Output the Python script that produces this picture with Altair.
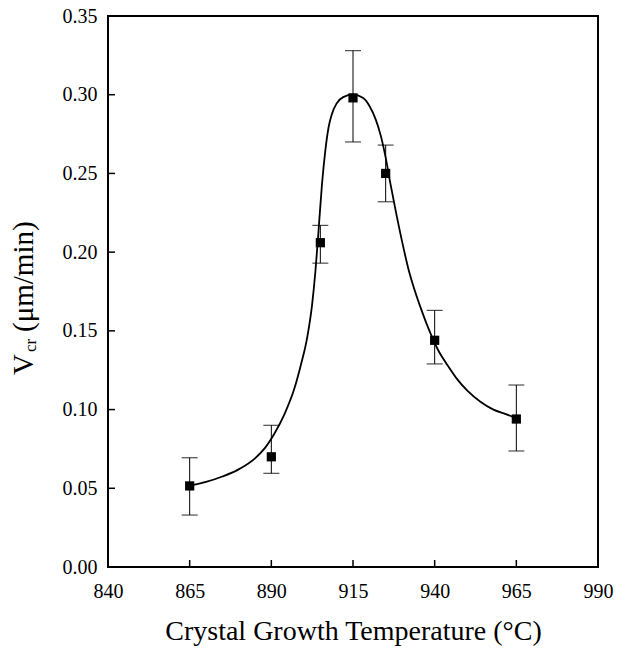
import altair as alt
import pandas as pd

# measured points
temp = [865, 890, 905, 915, 925, 940, 965]
vcr = [0.0515, 0.070, 0.206, 0.298, 0.250, 0.144, 0.094]
err_lo = [0.033, 0.0595, 0.193, 0.270, 0.232, 0.129, 0.0737]
err_hi = [0.0694, 0.090, 0.217, 0.328, 0.268, 0.163, 0.1156]

# fitted curve
curve_x = [865, 870, 875, 880, 885, 888, 891, 894, 897, 899, 901, 902.5, 903.5,
           904.5, 905.5, 906.5, 907.5, 908.5, 910, 912, 915, 918, 920, 922,
           923.5, 925, 926.5, 928, 930, 932, 934, 936, 938, 941, 944, 947, 950,
           954, 958, 962, 965]
curve_y = [0.0515, 0.054, 0.0575, 0.062, 0.069, 0.0755, 0.085, 0.097, 0.113,
           0.128, 0.146, 0.167, 0.188, 0.215, 0.243, 0.264, 0.279, 0.2875,
           0.2945, 0.2985, 0.300, 0.298, 0.293, 0.284, 0.274, 0.260, 0.243,
           0.227, 0.207, 0.189, 0.175, 0.163, 0.152, 0.138, 0.128, 0.119,
           0.112, 0.105, 0.100, 0.097, 0.0945]

x_ticks = [840, 865, 890, 915, 940, 965, 990]
y_ticks = [0.0, 0.05, 0.10, 0.15, 0.20, 0.25, 0.30, 0.35]

W, H = 490, 551
FONT = "Liberation Serif"

pts = pd.DataFrame({"T": temp, "V": vcr, "lo": err_lo, "hi": err_hi})
curve = pd.DataFrame({"T": curve_x, "V": curve_y})
xt = pd.DataFrame({"T": x_ticks})
yt = pd.DataFrame({"V": y_ticks})

xscale = alt.Scale(domain=[840, 990], nice=False, zero=False)
yscale = alt.Scale(domain=[0, 0.35], nice=False)

XTITLE = "Crystal Growth Temperature (°C)"
xaxis = alt.Axis(values=x_ticks, format="d", labelFont=FONT, labelFontSize=20,
                 labelColor="black", ticks=False, domain=False, grid=False,
                 labelPadding=14, labelFlush=False,
                 title=XTITLE, titleFont=FONT,
                 titleFontSize=28, titleFontWeight="normal", titleColor="black",
                 titlePadding=16)
yaxis = alt.Axis(values=y_ticks, format=".2f", labelFont=FONT, labelFontSize=20,
                 labelColor="black", ticks=False, domain=False, grid=False,
                 labelPadding=11, labelFlush=False, title="")


def X(f):
    return alt.X(f, scale=xscale, axis=xaxis, title=XTITLE)


def Y(f):
    return alt.Y(f, scale=yscale, axis=yaxis, title="")


line = alt.Chart(curve).mark_line(color="black", strokeWidth=1.8,
                                  interpolate="monotone").encode(
    x=X("T:Q"), y=Y("V:Q"))

bars = alt.Chart(pts).mark_rule(color="black", strokeWidth=1).encode(
    x=X("T:Q"), y=Y("lo:Q"), y2="hi:Q")

cap_hi = alt.Chart(pts).mark_tick(color="black", orient="horizontal", size=16,
                                  thickness=1.2).encode(
    x=X("T:Q"), y=Y("hi:Q"))
cap_lo = alt.Chart(pts).mark_tick(color="black", orient="horizontal", size=16,
                                  thickness=1.2).encode(
    x=X("T:Q"), y=Y("lo:Q"))

squares = alt.Chart(pts).mark_square(color="black", size=85, opacity=1).encode(
    x=X("T:Q"), y=Y("V:Q"))

xtick = alt.Chart(xt).mark_rule(color="black", strokeWidth=1.5).encode(
    x=X("T:Q"), y=alt.value(H), y2=alt.value(H - 7))
ytick = alt.Chart(yt).mark_rule(color="black", strokeWidth=1.5).encode(
    y=Y("V:Q"), x=alt.value(0), x2=alt.value(7))

one = pd.DataFrame({"a": [0]})
t_v = alt.Chart(one).mark_text(text="V", font=FONT, fontSize=29, angle=270,
                               align="left", baseline="alphabetic",
                               color="black").encode(
    x=alt.value(-75), y=alt.value(359))
t_cr = alt.Chart(one).mark_text(text="cr", font=FONT, fontSize=17, angle=270,
                                align="left", baseline="alphabetic",
                                color="black").encode(
    x=alt.value(-72), y=alt.value(336))
t_unit = alt.Chart(one).mark_text(text="(μm/min)", font=FONT, fontSize=29,
                                  angle=270, align="left", baseline="alphabetic",
                                  color="black").encode(
    x=alt.value(-75), y=alt.value(316))

chart = alt.layer(line, bars, cap_hi, cap_lo, squares, xtick, ytick,
                  t_v, t_cr, t_unit).properties(
    width=W, height=H,
    autosize=alt.AutoSizeParams(type="none"),
    padding={"left": 108, "top": 16, "right": 30, "bottom": 86},
    background="white",
).configure_view(stroke="black", strokeWidth=2)

chart.save("out.html", embed_options={"renderer": "svg", "actions": False})
